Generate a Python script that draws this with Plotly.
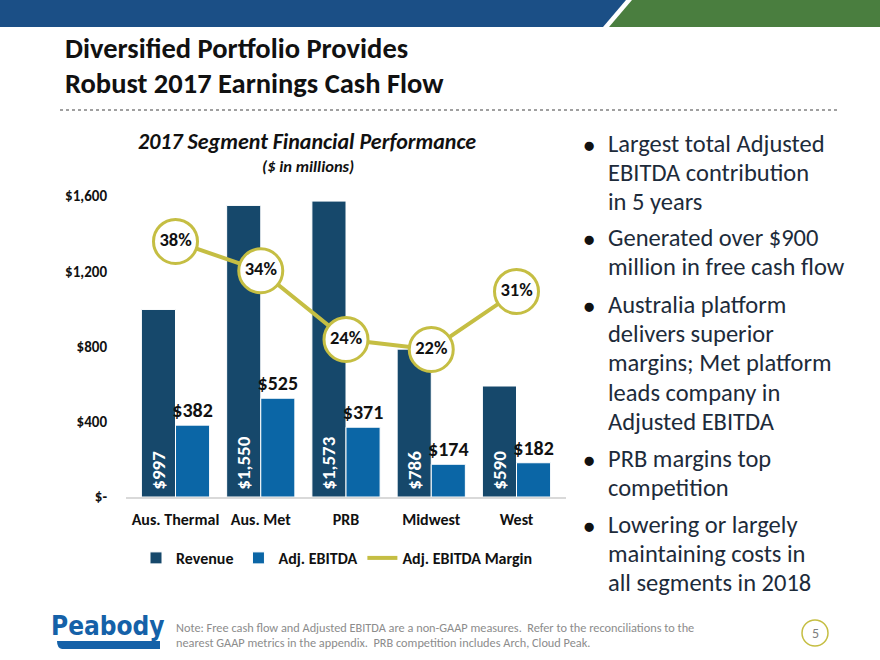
import plotly.graph_objects as go

# ---------------- data ----------------
categories = ["Aus. Thermal", "Aus. Met", "PRB", "Midwest", "West"]
revenue = [997, 1550, 1573, 786, 590]
adj_ebitda = [382, 525, 371, 174, 182]
margin_pct = [38.3, 33.9, 23.6, 22.1, 30.8]
y_tick_vals = [0, 400, 800, 1200, 1600]
y_tick_text = ["$-", "$400", "$800", "$1,200", "$1,600"]

bullets = [
    ["Largest total Adjusted", "EBITDA contribution", "in 5 years"],
    ["Generated over $900", "million in free cash flow"],
    ["Australia platform", "delivers superior", "margins; Met platform",
     "leads company in", "Adjusted EBITDA"],
    ["PRB margins top", "competition"],
    ["Lowering or largely", "maintaining costs in", "all segments in 2018"],
]

# ---------------- styling ----------------
W, H = 880, 660
L, R, T, B = 126, 566, 196, 497
FONT = "Carlito, Lato, 'Open Sans', sans-serif"
REV_C = "#16486B"
EBT_C = "#0B66A6"
GOLD = "#C5BE43"


def px(x):
    return (x - L) / (R - L)


def py(y):
    return (B - y) / (B - T)


fig = go.Figure()
fig.add_trace(go.Bar(
    x=categories, y=revenue, name="Revenue",
    marker=dict(color=REV_C, line=dict(color="white", width=1)),
    text=[f"\u00a0${v:,}" for v in revenue], textposition="inside",
    insidetextanchor="start", textangle=-90,
    textfont=dict(color="white", size=19, family=FONT, weight="bold"),
    cliponaxis=False, constraintext="none",
))
fig.add_trace(go.Bar(
    x=categories, y=adj_ebitda, name="Adj. EBITDA",
    marker=dict(color=EBT_C, line=dict(color="white", width=1)),
    text=[f"${v:,}" for v in adj_ebitda], textposition="outside",
    textfont=dict(color="#111111", size=20, family=FONT, weight="bold"),
    cliponaxis=False, constraintext="none",
))
fig.add_trace(go.Scatter(
    x=categories, y=margin_pct, yaxis="y2", mode="lines+markers+text",
    text=[f"{round(v)}%" for v in margin_pct], textposition="middle center",
    textfont=dict(color="#111111", size=18.5, family=FONT, weight="bold"),
    marker=dict(size=44, color="white", line=dict(color=GOLD, width=3)),
    line=dict(color=GOLD, width=4), showlegend=False, cliponaxis=False,
))
fig.add_trace(go.Scatter(
    x=[None], y=[None], yaxis="y2", mode="lines", name="Adj. EBITDA Margin",
    line=dict(color=GOLD, width=4),
))

shapes = []
# top banner
shapes.append(dict(type="path", xref="paper", yref="paper",
                   path=f"M {px(0)} {py(0)} L {px(626)} {py(0)} L {px(603)} {py(27)} L {px(0)} {py(27)} Z",
                   fillcolor="#1B4F86", line=dict(width=0), layer="below"))
shapes.append(dict(type="path", xref="paper", yref="paper",
                   path=f"M {px(632)} {py(0)} L {px(880)} {py(0)} L {px(880)} {py(27)} L {px(609)} {py(27)} Z",
                   fillcolor="#4A7E3F", line=dict(width=0), layer="below"))
# dotted separator
shapes.append(dict(type="line", xref="paper", yref="paper",
                   x0=px(60), x1=px(838), y0=py(110), y1=py(110),
                   line=dict(color="#A0A0A0", width=2, dash="dot")))
# logo underline swoosh
shapes.append(dict(type="path", xref="paper", yref="paper",
                   path=f"M {px(57)} {py(641)} L {px(160)} {py(641)} L {px(160)} {py(649)} L {px(62)} {py(649)} Q {px(57)} {py(648)} {px(57)} {py(641)} Z",
                   fillcolor="#1561A8", line=dict(width=0)))
# page number circle
shapes.append(dict(type="circle", xref="paper", yref="paper",
                   x0=px(802), x1=px(828), y0=py(620), y1=py(646),
                   line=dict(color=GOLD, width=1.5), fillcolor="white"))

ann = []


def add_text(x, y, text, size, color="#111111", weight="normal", style="normal",
             xanchor="left", family=FONT):
    ann.append(dict(x=px(x), y=py(y), xref="paper", yref="paper", text=text,
                    showarrow=False, xanchor=xanchor, yanchor="middle",
                    font=dict(size=size, color=color, family=family,
                              weight=weight, style=style)))


add_text(63, 48, "Diversified Portfolio Provides", 28.5, "#111111", "bold")
add_text(63, 83, "Robust 2017 Earnings Cash Flow", 28.5, "#111111", "bold")
add_text(307, 142, "2017 Segment Financial Performance", 22, "#111111", "bold", "italic", "center")
add_text(308, 166, "($ in millions)", 16.5, "#111111", "bold", "italic", "center")

line_y = [[144, 173, 202], [238, 267], [305, 334, 363, 393, 422], [459, 488], [525, 554, 583]]
for blines, ys in zip(bullets, line_y):
    add_text(589, ys[0] + 1, "●", 20, "#111111", xanchor="center")
    for t, yy in zip(blines, ys):
        add_text(606, yy, t, 24.5, "#1D2B3A")

add_text(174, 627, "Note: Free cash flow and Adjusted EBITDA are a non-GAAP measures.  Refer to the reconciliations to the",
         12.3, "#8C8C8C")
add_text(174, 642, "nearest GAAP metrics in the appendix.  PRB competition includes Arch, Cloud Peak.",
         12.3, "#8C8C8C")
add_text(815, 633, "5", 14, "#7F7F7F", xanchor="center")
add_text(108, 626, "Peabody", 26, "#1561A8", "bold", xanchor="center",
         family="'DejaVu Sans Condensed', 'Roboto Condensed', Roboto, sans-serif")

fig.update_layout(
    width=W, height=H,
    margin=dict(l=L, r=W - R, t=T, b=H - B),
    paper_bgcolor="white", plot_bgcolor="white",
    barmode="group", bargap=0.2, bargroupgap=0.0,
    font=dict(family=FONT, color="#111111"),
    xaxis=dict(type="category", showline=True, linecolor="#D9D9D9", linewidth=1.5,
               ticks="", showgrid=False, ticklabelstandoff=7,
               tickfont=dict(size=16, weight="bold", family=FONT, color="#111111")),
    yaxis=dict(range=[0, 1600], tickvals=y_tick_vals, ticktext=y_tick_text,
               showgrid=False, zeroline=False, showline=False, ticks="",
               ticklabelstandoff=18,
               tickfont=dict(size=15, weight="bold", family=FONT, color="#111111")),
    yaxis2=dict(range=[0, 45.1], overlaying="y", visible=False),
    legend=dict(orientation="h", x=px(337), xanchor="center", y=py(558), yanchor="middle",
                font=dict(size=16, weight="bold", family=FONT, color="#111111"),
                bgcolor="rgba(0,0,0,0)", traceorder="normal", itemwidth=30),
    shapes=shapes, annotations=ann,
)

fig.write_html("out.html", config={"displayModeBar": False},
               post_script="document.body.style.margin='0px';document.body.style.overflow='hidden';")
